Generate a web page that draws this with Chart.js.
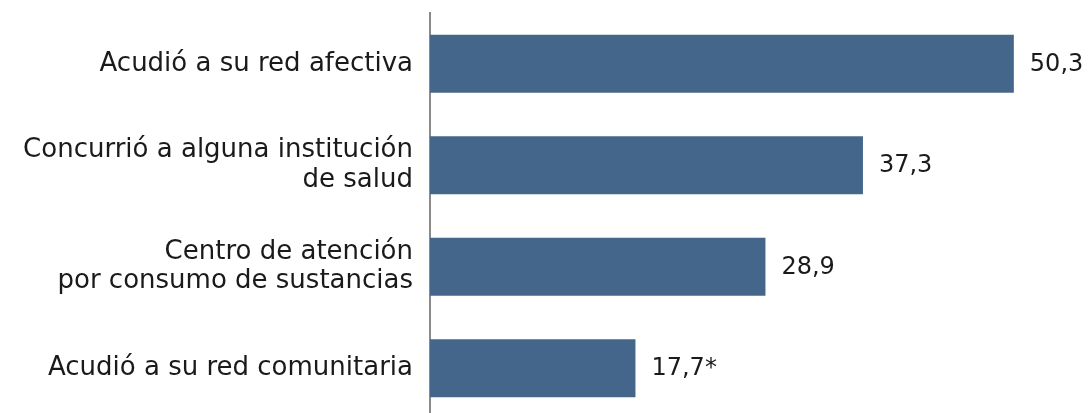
<!DOCTYPE html>
<html>
<head>
<meta charset="utf-8">
<script src="https://cdn.jsdelivr.net/npm/chart.js@4"></script>
<style>
  html, body { margin: 0; padding: 0; background: #fff; overflow: hidden; }
  #wrap { width: 1089px; height: 419px; }
</style>
</head>
<body>
<div id="wrap"><canvas id="ayuda-chart"></canvas></div>
<script>
// Categories and values
const categories = [
    'Acudió a su red afectiva',
    ['Concurrió a alguna institución', 'de salud'],
    ['Centro de atención', 'por consumo de sustancias'],
    'Acudió a su red comunitaria'
];
const values = [50.3, 37.3, 28.9, 17.7];
const valueLabels = ['50,3', '37,3', '28,9', '17,7*'];

const labelFont = '"DejaVu Sans", sans-serif';

// Writes the value text to the right of each bar
const valueLabelPlugin = {
    id: 'valueLabels',
    afterDatasetsDraw(chart) {
        const ctx = chart.ctx;
        const meta = chart.getDatasetMeta(0);
        ctx.save();
        ctx.font = '24px ' + labelFont;
        ctx.fillStyle = '#1a1a1a';
        ctx.textAlign = 'left';
        ctx.textBaseline = 'middle';
        meta.data.forEach((bar, i) => {
            ctx.fillText(valueLabels[i], bar.x + 16, bar.y + 1);
        });
        ctx.restore();
    }
};

const ctx = document.getElementById('ayuda-chart').getContext('2d');
new Chart(ctx, {
    type: 'bar',
    data: {
        labels: categories,
        datasets: [{
            data: values,
            backgroundColor: '#44668a',
            categoryPercentage: 1,
            barPercentage: 0.572
        }]
    },
    options: {
        indexAxis: 'y',
        responsive: true,
        maintainAspectRatio: false,
        animation: false,
        layout: {
            padding: { top: 13, right: 9, bottom: 0, left: 0 }
        },
        plugins: {
            legend: { display: false },
            tooltip: { enabled: false }
        },
        scales: {
            x: {
                display: false,
                min: 0,
                max: 56
            },
            y: {
                afterFit: (scale) => {
                    scale.width = 430;
                    scale.paddingTop = 0;
                    scale.paddingBottom = 0;
                },
                grid: { display: false, drawTicks: false },
                border: { display: true, color: '#8a8a8a', width: 2 },
                ticks: {
                    padding: 17,
                    color: '#1a1a1a',
                    font: { family: labelFont, size: 26, lineHeight: 1.15 }
                }
            }
        }
    },
    plugins: [valueLabelPlugin]
});
</script>
</body>
</html>
